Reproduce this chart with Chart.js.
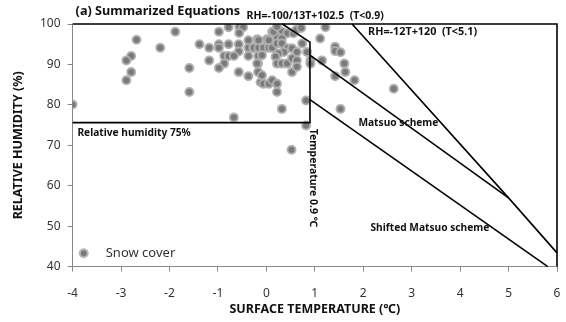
<!DOCTYPE html>
<html>
<head>
<meta charset="utf-8">
<script src="https://cdn.jsdelivr.net/npm/chart.js@4.4.1/dist/chart.umd.min.js"></script>
<style>
  html, body { margin:0; padding:0; background:#fff; }
  #wrap { width:566px; height:322px; position:relative; }
</style>
</head>
<body>
<div id="wrap"><canvas id="chart" width="566" height="322"></canvas></div>
<script>
/* ---------- data ---------- */
const xTicks = [-4, -3, -2, -1, 0, 1, 2, 3, 4, 5, 6];
const yTicks = [40, 50, 60, 70, 80, 90, 100];

// snow cover observations [T (°C), RH (%)]
const snowT = [
  -4.0, -2.68, -2.79, -2.89, -2.79, -2.89, -2.19, -1.88, -1.59, -1.59,
  -0.98, -0.78, -0.56, -0.48, -0.56, -1.38, -1.18, -0.98, -0.98, -0.78,
  -0.57, -0.57, -0.37, -0.27, -0.17, -1.18, -0.87, -0.78, -0.67, -0.87,
  -0.98, -0.37, -0.17, -0.57, -0.37, -0.17, -0.17, -0.12, -0.67,
  0.22, 0.12, 0.32, 0.43, 0.56, 0.22, 0.32, 0.74, -0.19, 0.01,
  -0.26, -0.16, -0.06, 0.05, 0.12, 0.22, 0.32, 0.43, 0.53, 0.63,
  0.36, 0.25, 0.84, -0.09, -0.19, 0.19, 0.22, 0.32, 0.43, 0.53,
  0.63, 0.91, 0.91, 0.53, 0.63, -0.09, -0.06, 0.05, 0.12, 0.22,
  0.22, 1.11, 0.82, 0.32, 0.82, 0.52, -0.37, -0.16, 0.05, 0.15,
  0.22, 0.62, 0.72,
  1.22, 1.42, 1.42, 1.53, 1.61, 1.63, 1.42, 1.82, 2.63, 1.53, 1.15
];
const snowRH = [
  80.1, 96.1, 92.1, 91.0, 88.1, 86.1, 94.1, 98.1, 89.1, 83.2,
  98.1, 99.2, 99.3, 99.2, 97.8, 95.0, 94.1, 95.0, 94.1, 95.0,
  95.0, 93.2, 94.1, 94.1, 94.1, 91.0, 92.1, 92.1, 92.1, 90.2,
  89.1, 92.1, 92.1, 88.1, 87.1, 90.2, 88.1, 85.6, 76.9,
  99.2, 98.1, 98.1, 97.7, 97.7, 96.8, 96.4, 95.2, 96.2, 96.2,
  94.1, 94.1, 94.1, 94.1, 94.1, 95.2, 95.2, 94.0, 94.0, 93.1,
  93.1, 92.7, 93.1, 92.3, 90.2, 91.9, 90.2, 90.2, 90.2, 91.5,
  91.0, 91.0, 90.2, 88.1, 89.4, 87.3, 85.2, 85.2, 86.1, 85.2,
  83.2, 96.4, 81.1, 79.0, 74.9, 68.9, 96.0, 96.0, 96.0, 98.1,
  99.3, 98.6, 99.0,
  99.2, 94.4, 93.3, 93.0, 90.2, 88.1, 87.1, 86.1, 84.0, 79.0, 91.0
];

// threshold box: RH 75% line and 0.9 °C line, then RH=-100/13T+102.5
const boxT  = [-4.0, 0.9, 0.9, 0.33];
const boxRH = [75.6, 75.6, 95.5, 100];
// RH=-12T+120 (T<5.1)
const rh12T  = [1.77, 5.0, 6.0];
const rh12RH = [100, 57.0, 43.4];
// Matsuo scheme
const matsuoT  = [0.9, 5.0];
const matsuoRH = [92.3, 57.0];
// shifted Matsuo scheme
const shiftT  = [0.9, 5.81];
const shiftRH = [81.3, 40];
// outer frame (top / right)
const frameT  = [-4, 6, 6];
const frameRH = [100, 100, 40];

const pts = (xs, ys) => xs.map((x, i) => ({ x: x, y: ys[i] }));

/* ---------- text annotations (data coords) ---------- */
const notes = [
  { text: "RH=-100/13T+102.5  (T<0.9)", x: -0.41, y: 102.0, size: 10.5 },
  { text: "RH=-12T+120  (T<5.1)", x: 2.1, y: 98.0, size: 10.8 },
  { text: "Matsuo scheme", x: 1.9, y: 75.4, size: 10.2 },
  { text: "Shifted Matsuo scheme", x: 2.15, y: 49.5, size: 10.2 },
  { text: "Relative humidity 75%", x: -3.9, y: 72.9, size: 10.2 }
];

const FONT = "'Noto Sans', sans-serif";

const annotPlugin = {
  id: "annot",
  afterDatasetsDraw(chart) {
    const { ctx, scales: { x, y }, chartArea } = chart;
    ctx.save();
    ctx.fillStyle = "#111";
    ctx.textBaseline = "middle";
    ctx.textAlign = "left";
    notes.forEach(n => {
      ctx.font = "bold " + n.size + "px " + FONT;
      ctx.fillText(n.text, x.getPixelForValue(n.x), y.getPixelForValue(n.y));
    });
    // title
    ctx.font = "bold 12.7px " + FONT;
    ctx.fillText("(a) Summarized Equations", chartArea.left + 3, chartArea.top - 13);
    // x axis title
    ctx.textAlign = "center";
    ctx.font = "bold 12.5px " + FONT;
    ctx.fillText("SURFACE TEMPERATURE (\u2103)", (chartArea.left + chartArea.right) / 2, chartArea.bottom + 43);
    ctx.textAlign = "left";
    // rotated temperature label
    ctx.save();
    ctx.translate(x.getPixelForValue(0.97), y.getPixelForValue(74.1));
    ctx.rotate(Math.PI / 2);
    ctx.font = "bold 10.5px " + FONT;
    ctx.fillText("Temperature 0.9 \u2103", 0, 0);
    ctx.restore();
    // legend (inside plot, bottom left)
    const lx = x.getPixelForValue(-3.77), ly = y.getPixelForValue(43.3);
    ctx.beginPath();
    ctx.arc(lx, ly, 4, 0, Math.PI * 2);
    ctx.fillStyle = "#7a7a7a";
    ctx.fill();
    ctx.lineWidth = 2;
    ctx.strokeStyle = "#b8b8b8";
    ctx.stroke();
    ctx.fillStyle = "#333";
    ctx.font = "13px " + FONT;
    ctx.fillText("Snow cover", lx + 22, ly);
    ctx.restore();
  }
};

const lineDs = (label, data) => ({
  type: "line", label, data,
  borderColor: "#000", borderWidth: 1.6, pointRadius: 0,
  fill: false, tension: 0, clip: false
});

new Chart(document.getElementById("chart"), {
  type: "scatter",
  data: {
    datasets: [
      lineDs("frame", pts(frameT, frameRH)),
      lineDs("box", pts(boxT, boxRH)),
      lineDs("RH=-12T+120", pts(rh12T, rh12RH)),
      lineDs("Matsuo", pts(matsuoT, matsuoRH)),
      lineDs("Shifted Matsuo", pts(shiftT, shiftRH)),
      {
        label: "Snow cover",
        data: pts(snowT, snowRH),
        backgroundColor: "#7a7a7a",
        borderColor: "rgba(175,175,175,0.9)",
        borderWidth: 2,
        pointRadius: 4
      }
    ]
  },
  options: {
    responsive: false,
    animation: false,
    devicePixelRatio: 1,
    layout: { padding: { left: 11, right: 9, top: 24, bottom: 6 } },
    plugins: { legend: { display: false }, tooltip: { enabled: false } },
    scales: {
      x: {
        type: "linear", min: -4, max: 6,
        afterBuildTicks: s => { s.ticks = xTicks.map(v => ({ value: v })); },
        afterFit: s => { s.paddingRight = 0; },
        grid: { drawOnChartArea: false, drawTicks: true, tickLength: 5, color: "#888" },
        border: { color: "#888", width: 1 },
        ticks: { color: "#333", font: { family: FONT, size: 12 }, padding: 15 },
        title: { display: false }
      },
      y: {
        type: "linear", min: 40, max: 100,
        afterBuildTicks: s => { s.ticks = yTicks.map(v => ({ value: v })); },
        grid: { drawOnChartArea: false, drawTicks: true, tickLength: 5, color: "#888" },
        border: { color: "#888", width: 1 },
        ticks: { color: "#333", font: { family: FONT, size: 12 }, padding: 7 },
        title: { display: true, text: "RELATIVE HUMIDITY (%)", color: "#111",
                 font: { family: FONT, size: 12.5, weight: "bold" }, padding: { top: 0, bottom: 7 } }
      }
    }
  },
  plugins: [annotPlugin]
});
</script>
</body>
</html>
